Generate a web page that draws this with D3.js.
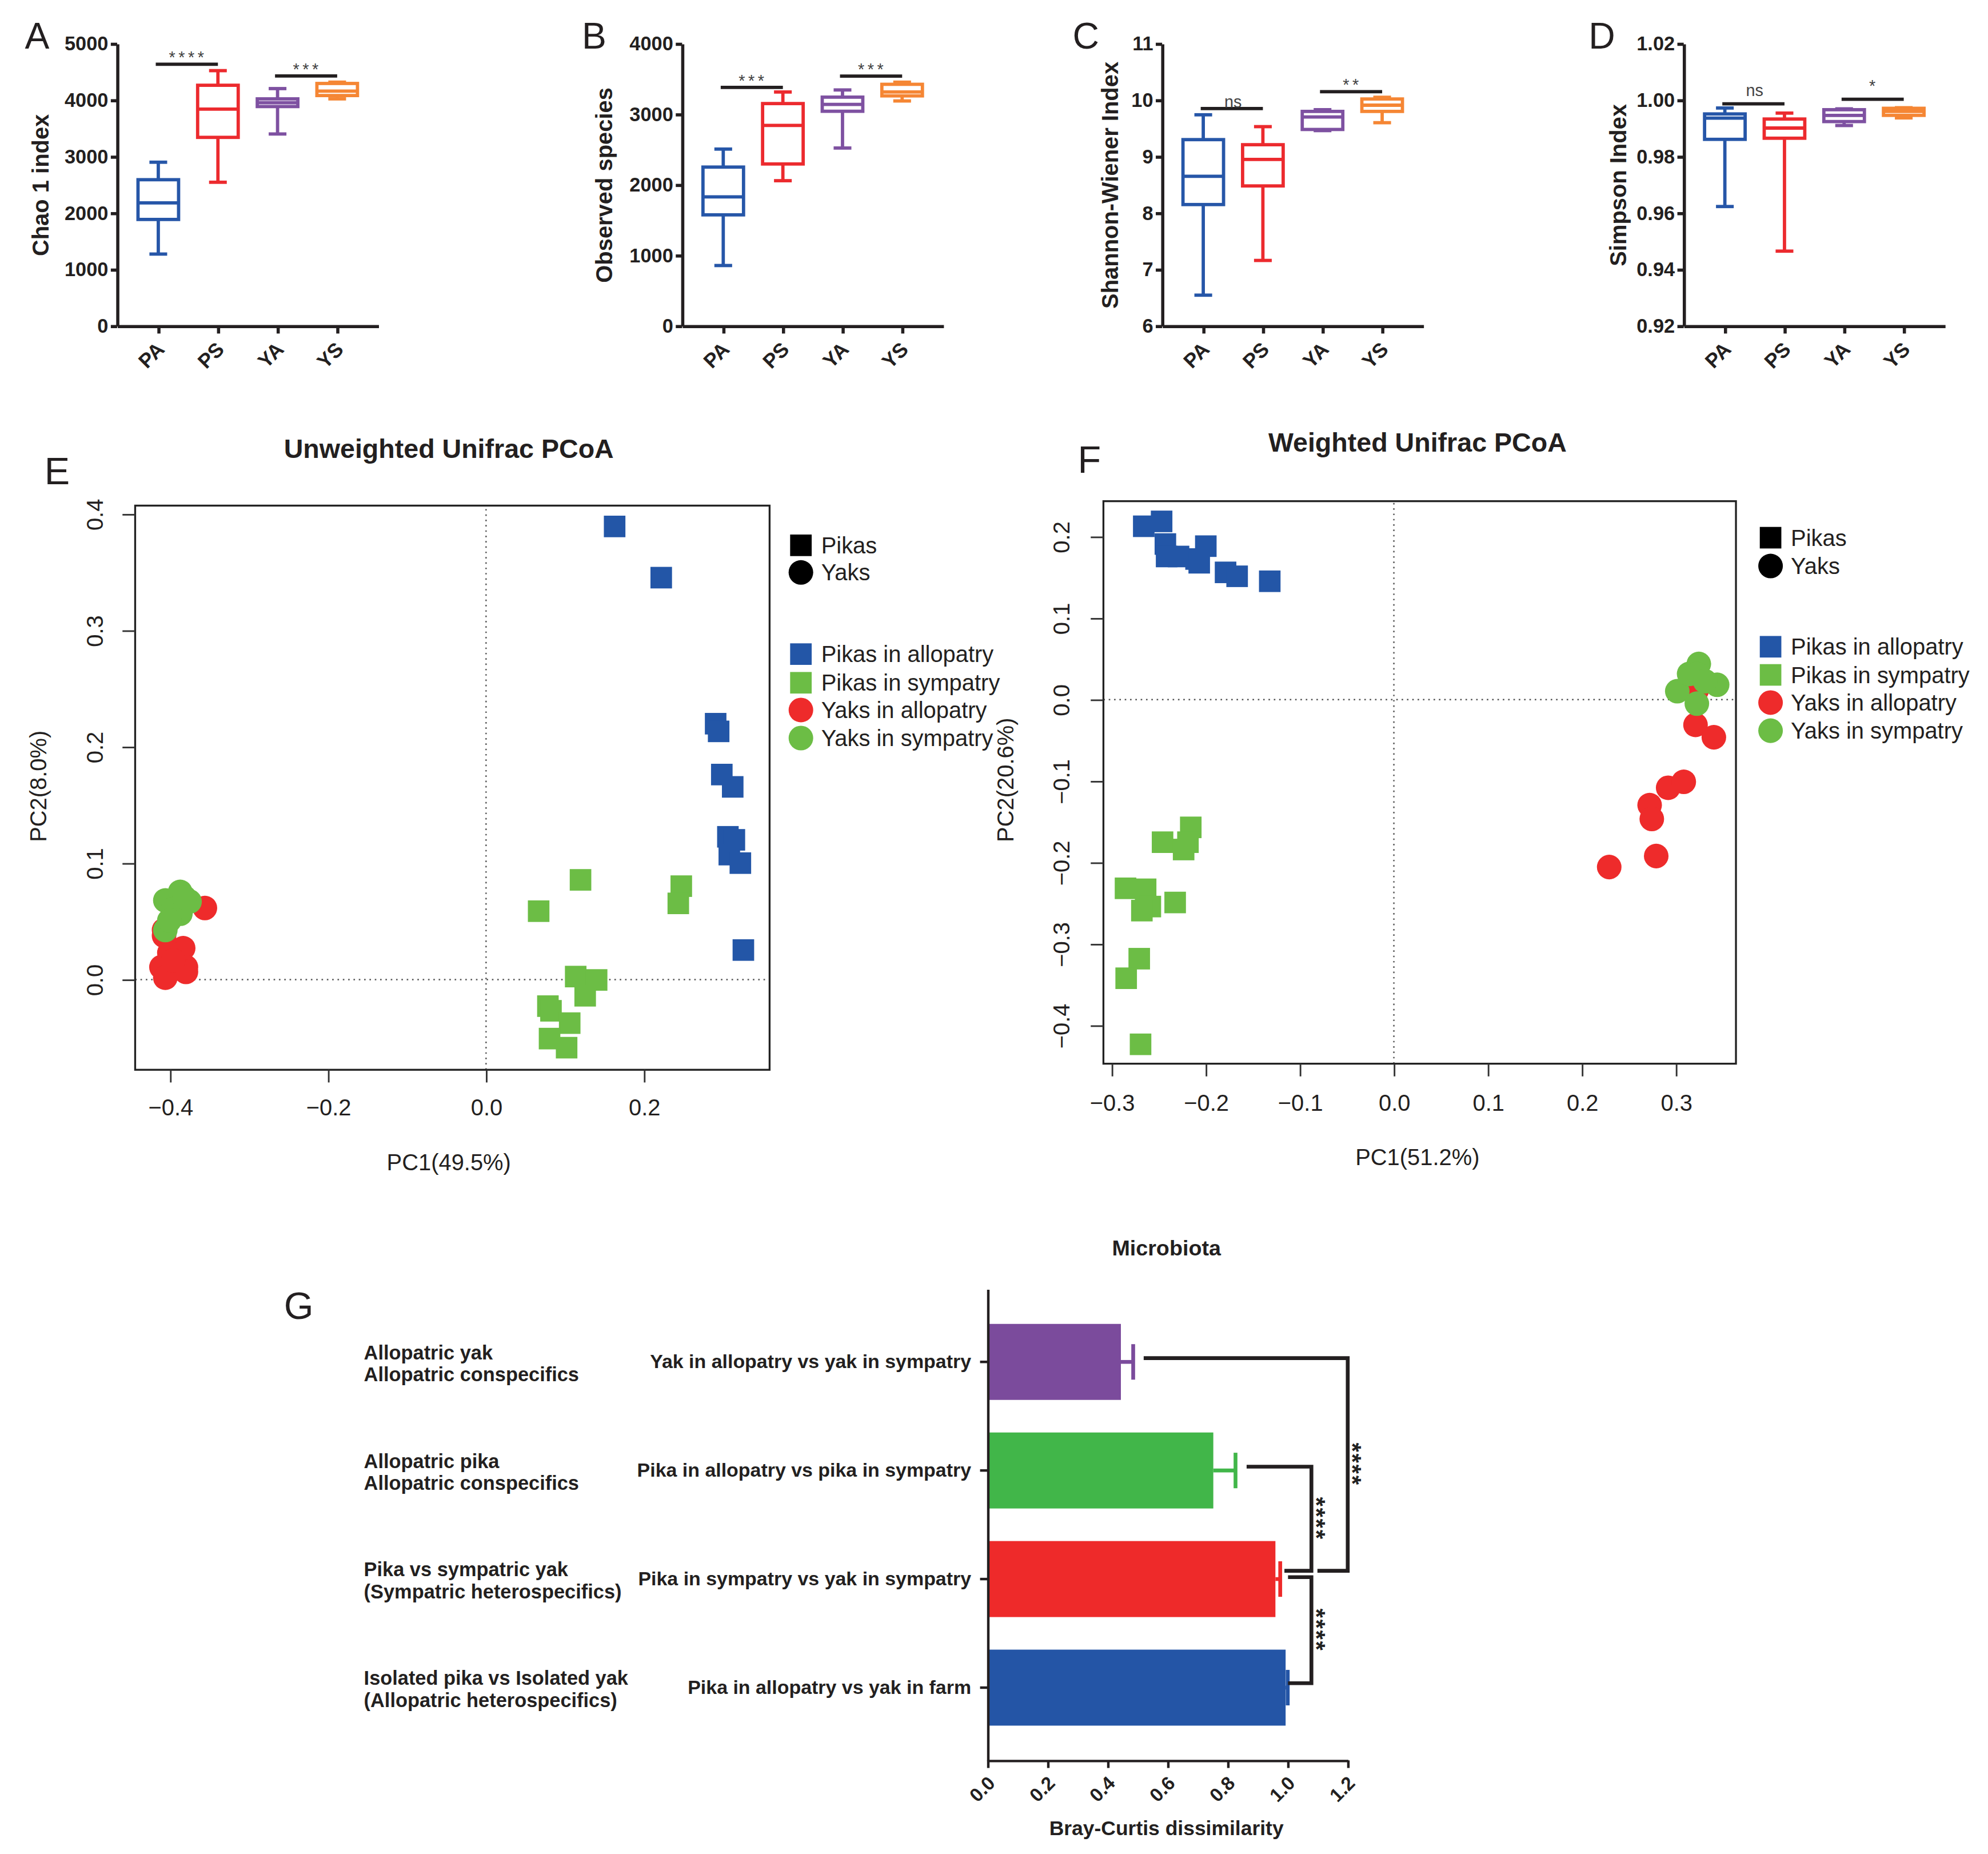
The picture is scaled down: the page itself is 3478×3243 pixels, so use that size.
<!DOCTYPE html>
<html>
<head>
<meta charset="utf-8">
<script src="https://cdn.jsdelivr.net/npm/d3@7"></script>
<style>
  body { margin: 0; background: #fff; }
  text { font-family: "Liberation Sans", Arial, sans-serif; fill: #231f20; }
</style>
</head>
<body>
<div class="chart-holder"></div>
<script>
// ---- data: alpha diversity boxes, [min, q1, median, q3, max] per group
const groups = ["PA", "PS", "YA", "YS"];
const chao1Box = [[1273, 1886, 2180, 2590, 2900], [2545, 3340, 3840, 4263, 4522], [3400, 3886, 3954, 4022, 4204], [4022, 4081, 4160, 4295, 4318]];
const observedBox = [[856, 1574, 1829, 2251, 2506], [2058, 2295, 2842, 3151, 3315], [2521, 3042, 3140, 3242, 3344], [3188, 3260, 3315, 3424, 3454]];
const shannonBox = [[6.545, 8.15, 8.65, 9.30, 9.74], [7.16, 8.48, 8.95, 9.21, 9.53], [9.46, 9.48, 9.70, 9.80, 9.83], [9.60, 9.80, 9.91, 10.02, 10.05]];
const simpsonBox = [[0.9623, 0.9861, 0.9936, 0.9951, 0.9972], [0.9465, 0.9865, 0.9901, 0.9933, 0.9954], [0.9910, 0.9924, 0.9946, 0.9966, 0.9969], [0.9937, 0.9946, 0.9960, 0.9971, 0.9973]];
const chao1Ticks = [0, 1000, 2000, 3000, 4000, 5000];
const observedTicks = [0, 1000, 2000, 3000, 4000];
const shannonTicks = [6, 7, 8, 9, 10, 11];
const simpsonTicks = [0.92, 0.94, 0.96, 0.98, 1.00, 1.02];
// [from group, to group, value of bar, label]
const chao1Sig = [[0, 1, 4636, "****"], [2, 3, 4427, "***"]];
const observedSig = [[0, 1, 3381, "***"], [2, 3, 3541, "***"]];
const shannonSig = [[0, 1, 9.85, "ns"], [2, 3, 10.15, "**"]];
const simpsonSig = [[0, 1, 0.9987, "ns"], [2, 3, 1.0003, "*"]];

// ---- data: PCoA coordinates [PC1, PC2]
const unwPikaAllo = [[0.1628, 0.3894], [0.2218, 0.3454], [0.2907, 0.2199], [0.2945, 0.2133], [0.2985, 0.1762], [0.3123, 0.1656], [0.3062, 0.1227], [0.3144, 0.1201], [0.3080, 0.1074], [0.3220, 0.1001], [0.3258, 0.0254]];
const unwPikaSym = [[0.1135, 0.0026], [0.1400, -0.0003], [0.1255, -0.0139], [0.0783, -0.0228], [0.0822, -0.0268], [0.1059, -0.0374], [0.0804, -0.0507], [0.1020, -0.0585], [0.1196, 0.0857], [0.0666, 0.0588], [0.2472, 0.0803], [0.2434, 0.0655]];
const unwYakAllo = [[-0.356, 0.0615], [-0.4077, 0.0426], [-0.4077, 0.0377], [-0.3835, 0.027], [-0.401, 0.023], [-0.411, 0.0107], [-0.380, 0.0107], [-0.4061, 0.0016], [-0.380, 0.0066], [-0.3963, 0.0164]];
const unwYakSym = [[-0.4061, 0.068], [-0.3873, 0.0754], [-0.3754, 0.0671], [-0.3963, 0.0606], [-0.387, 0.0566], [-0.4061, 0.0426], [-0.401, 0.0508], [-0.3818, 0.0705]];
const wPikaAllo = [[-0.266, 0.2128], [-0.247, 0.2188], [-0.243, 0.191], [-0.2417, 0.1757], [-0.229, 0.1757], [-0.2104, 0.1726], [-0.200, 0.1884], [-0.207, 0.168], [-0.179, 0.1562], [-0.1667, 0.1514], [-0.132, 0.1453]];
const wPikaSym = [[-0.216, -0.1568], [-0.219, -0.175], [-0.246, -0.175], [-0.2236, -0.184], [-0.2854, -0.2316], [-0.264, -0.2328], [-0.259, -0.254], [-0.268, -0.259], [-0.2326, -0.249], [-0.2708, -0.318], [-0.2847, -0.342], [-0.2694, -0.4231]];
const wYakAllo = [[0.229, -0.2055], [0.279, -0.192], [0.272, -0.1295], [0.2743, -0.1465], [0.2917, -0.1082], [0.3083, -0.1009], [0.3208, -0.031], [0.3403, -0.0462], [0.3222, 0.012]];
const wYakSym = [[0.3014, 0.0103], [0.314, 0.0316], [0.3243, 0.0438], [0.3222, 0.0316], [0.3438, 0.0182], [0.3222, -0.0049], [0.331, 0.0225]];
const unwXTicks = [-0.4, -0.2, 0.0, 0.2];
const unwYTicks = [0.0, 0.1, 0.2, 0.3, 0.4];
const wXTicks = [-0.3, -0.2, -0.1, 0.0, 0.1, 0.2, 0.3];
const wYTicks = [-0.4, -0.3, -0.2, -0.1, 0.0, 0.1, 0.2];
const shapeLegend = ["Pikas", "Yaks"];
const groupLegend = ["Pikas in allopatry", "Pikas in sympatry", "Yaks in allopatry", "Yaks in sympatry"];

// ---- data: Bray-Curtis bars
const bcLabels = ["Yak in allopatry vs yak in sympatry", "Pika in allopatry vs pika in sympatry", "Pika in sympatry vs yak in sympatry", "Pika in allopatry vs yak in farm"];
const bcGroups = [["Allopatric yak", "Allopatric conspecifics"], ["Allopatric pika", "Allopatric conspecifics"], ["Pika vs sympatric yak", "(Sympatric heterospecifics)"], ["Isolated pika vs Isolated yak", "(Allopatric heterospecifics)"]];
const bcMeans = [0.444, 0.752, 0.959, 0.993];
const bcErr = [0.485, 0.826, 0.975, 1.0];
const bcTicks = [0, 0.2, 0.4, 0.6, 0.8, 1.0, 1.2];
// [from bar, to bar, x of bracket, x where it leaves, x where it ends]
const bcBrackets = [[0, 2, 1.2, 0.52, 1.099], [1, 2, 1.079, 0.863, 0.989], [2, 3, 1.079, 1.001, 1.001]];

const ink = "#231f20";
const boxColors = ["#2656a8", "#ec2a2e", "#7e51a1", "#f58634"];
const pcoaColors = ["#2356a7", "#6cbd45", "#ee2b2b", "#6cbd45"];
const barColors = ["#7b4b9c", "#41b649", "#ee2a2a", "#2455a6"];

const svg = d3.select(".chart-holder").append("svg")
  .attr("width", 3478).attr("height", 3243)
  .attr("viewBox", "0 0 1568 1462");

// ---------------- A-D box plots
function boxPanel(p) {
  const y = d3.scaleLinear().domain(p.domain).range([257, 34.4]);
  const x = d3.scalePoint().domain(groups).range([p.left, p.left + 206]).padding(0.69);
  const g = svg.append("g");

  g.append("text").attr("x", p.letterX).attr("y", 38.5).attr("font-size", 29).text(p.letter);
  g.append("text")
    .attr("transform", `translate(${p.titleX},146) rotate(-90)`)
    .attr("text-anchor", "middle").attr("dy", "0.35em")
    .attr("font-size", 18).attr("font-weight", "bold").text(p.title);

  const ya = g.append("g").attr("transform", `translate(${p.left},0)`)
    .call(d3.axisLeft(y).tickValues(p.ticks).tickFormat(p.fmt).tickSize(5).tickSizeOuter(0).tickPadding(2));
  const xa = g.append("g").attr("transform", "translate(0,257)")
    .call(d3.axisBottom(x).tickSize(6).tickSizeOuter(0));
  xa.selectAll("text").attr("x", -10).attr("y", 12).attr("dy", "0.35em")
    .attr("transform", "rotate(-45)").attr("text-anchor", "end").attr("font-size", 16);
  ya.selectAll("text").attr("font-size", 15.5);
  g.selectAll(".domain, .tick line").attr("stroke", ink).attr("stroke-width", 2.5);
  g.selectAll(".tick text").attr("font-weight", "bold").attr("fill", ink).attr("font-family", null);

  const rows = p.data.map((d, i) => ({ g: groups[i], v: d, c: boxColors[i] }));
  const bx = g.selectAll(".bx").data(rows).join("g")
    .attr("stroke", d => d.c).attr("stroke-width", 2.6).attr("fill", "none");
  bx.append("line").attr("x1", d => x(d.g)).attr("x2", d => x(d.g)).attr("y1", d => y(d.v[0])).attr("y2", d => y(d.v[1]));
  bx.append("line").attr("x1", d => x(d.g)).attr("x2", d => x(d.g)).attr("y1", d => y(d.v[3])).attr("y2", d => y(d.v[4]));
  bx.append("line").attr("x1", d => x(d.g) - 7).attr("x2", d => x(d.g) + 7).attr("y1", d => y(d.v[0])).attr("y2", d => y(d.v[0]));
  bx.append("line").attr("x1", d => x(d.g) - 7).attr("x2", d => x(d.g) + 7).attr("y1", d => y(d.v[4])).attr("y2", d => y(d.v[4]));
  bx.append("rect").attr("x", d => x(d.g) - 16).attr("width", 32)
    .attr("y", d => y(d.v[3])).attr("height", d => y(d.v[1]) - y(d.v[3])).attr("fill", "#fff");
  bx.append("line").attr("x1", d => x(d.g) - 16).attr("x2", d => x(d.g) + 16).attr("y1", d => y(d.v[2])).attr("y2", d => y(d.v[2]));

  p.sig.forEach(([a, b, v, label]) => {
    g.append("line").attr("x1", x(groups[a]) - 2).attr("x2", x(groups[b]))
      .attr("y1", y(v)).attr("y2", y(v)).attr("stroke", ink).attr("stroke-width", 2.6);
    g.append("text").attr("x", (x(groups[a]) + x(groups[b])) / 2).attr("y", y(v) - p.labelGap)
      .attr("text-anchor", "middle").attr("font-size", 13).style("fill", "#444")
      .attr("letter-spacing", label.startsWith("*") ? 2.5 : 0).text(label);
  });
}

boxPanel({ letter: "A", letterX: 19.6, left: 92.4, title: "Chao 1 index", titleX: 31.9, data: chao1Box, ticks: chao1Ticks, domain: [0, 5000], fmt: d3.format("d"), sig: chao1Sig, labelGap: 1 });
boxPanel({ letter: "B", letterX: 459, left: 538, title: "Observed species", titleX: 476.4, data: observedBox, ticks: observedTicks, domain: [0, 4000], fmt: d3.format("d"), sig: observedSig, labelGap: 1 });
boxPanel({ letter: "C", letterX: 846, left: 916.6, title: "Shannon-Wiener Index", titleX: 875.5, data: shannonBox, ticks: shannonTicks, domain: [6, 11], fmt: d3.format("d"), sig: shannonSig, labelGap: 1 });
boxPanel({ letter: "D", letterX: 1253, left: 1328, title: "Simpson Index", titleX: 1276.4, data: simpsonBox, ticks: simpsonTicks, domain: [0.92, 1.02], fmt: d3.format(".2f"), sig: simpsonSig, labelGap: 6 });

// ---------------- E-F PCoA
function pcoaPanel(p) {
  const x = d3.scaleLinear().domain(p.xDomain).range(p.xRange);
  const y = d3.scaleLinear().domain(p.yDomain).range(p.yRange);
  const g = svg.append("g");
  const fmt = d3.format(".1f");

  g.append("text").attr("x", p.letterX).attr("y", p.letterY).attr("font-size", 30).text(p.letter);
  g.append("text").attr("x", p.titleX).attr("y", p.titleY).attr("text-anchor", "middle")
    .attr("font-size", 21).attr("font-weight", "bold").text(p.title);

  const dotted = g.append("g").attr("stroke", "#555").attr("stroke-width", 1.1).attr("stroke-dasharray", "1.2,3");
  dotted.append("line").attr("x1", x(0)).attr("x2", x(0)).attr("y1", p.yRange[0]).attr("y2", p.yRange[1]);
  dotted.append("line").attr("x1", p.xRange[0]).attr("x2", p.xRange[1]).attr("y1", y(0)).attr("y2", y(0));

  p.series.forEach((pts, i) => {
    const col = pcoaColors[i];
    if (i < 2) {
      g.append("g").selectAll("rect").data(pts).join("rect")
        .attr("x", d => x(d[0]) - 8.5).attr("y", d => y(d[1]) - 8.5)
        .attr("width", 17).attr("height", 17).attr("fill", col);
    } else {
      g.append("g").selectAll("circle").data(pts).join("circle")
        .attr("cx", d => x(d[0])).attr("cy", d => y(d[1])).attr("r", 9.7).attr("fill", col);
    }
  });

  g.append("rect").attr("x", p.xRange[0]).attr("y", p.yRange[1])
    .attr("width", p.xRange[1] - p.xRange[0]).attr("height", p.yRange[0] - p.yRange[1])
    .attr("fill", "none").attr("stroke", "#222").attr("stroke-width", 1.5);

  const xa = g.append("g").attr("transform", `translate(0,${p.yRange[0]})`)
    .call(d3.axisBottom(x).tickValues(p.xTicks).tickFormat(fmt).tickSize(10).tickPadding(p.xPad).tickSizeOuter(0));
  const ya = g.append("g").attr("transform", `translate(${p.xRange[0]},0)`)
    .call(d3.axisLeft(y).tickValues(p.yTicks).tickFormat(fmt).tickSize(10).tickSizeOuter(0));
  g.selectAll(".domain").remove();
  g.selectAll(".tick line").attr("stroke", "#333").attr("stroke-width", 1.3);
  g.selectAll(".tick text").attr("font-size", 18).attr("fill", ink).attr("font-family", null);
  ya.selectAll("text").attr("x", null).attr("dy", "0.35em").attr("text-anchor", "middle")
    .attr("transform", `translate(${p.yLabelOff},0) rotate(-90)`);

  g.append("text").attr("x", p.titleX).attr("y", p.xTitleY).attr("text-anchor", "middle")
    .attr("font-size", 18).text(p.xTitle);
  g.append("text").attr("transform", `translate(${p.yTitleX},${p.yTitleY}) rotate(-90)`)
    .attr("text-anchor", "middle").attr("dy", "0.35em").attr("font-size", 18).text(p.yTitle);

  // legend
  const lg = g.append("g");
  shapeLegend.forEach((t, i) => {
    const cy = p.legY[i];
    if (i === 0) lg.append("rect").attr("x", p.legX - 8.5).attr("y", cy - 8.5).attr("width", 17).attr("height", 17).attr("fill", "#000");
    else lg.append("circle").attr("cx", p.legX).attr("cy", cy).attr("r", 9.7).attr("fill", "#000");
    lg.append("text").attr("x", p.legX + 16).attr("y", cy).attr("dy", "0.35em").attr("font-size", 18).text(t);
  });
  groupLegend.forEach((t, i) => {
    const cy = p.legY[i + 2];
    if (i < 2) lg.append("rect").attr("x", p.legX - 8.5).attr("y", cy - 8.5).attr("width", 17).attr("height", 17).attr("fill", pcoaColors[i]);
    else lg.append("circle").attr("cx", p.legX).attr("cy", cy).attr("r", 9.7).attr("fill", pcoaColors[i]);
    lg.append("text").attr("x", p.legX + 16).attr("y", cy).attr("dy", "0.35em").attr("font-size", 18).text(t);
  });
}

pcoaPanel({
  letter: "E", letterX: 35, letterY: 382, title: "Unweighted Unifrac PCoA", titleX: 354, titleY: 361,
  xDomain: [-0.4443, 0.359], xRange: [106.6, 607], yDomain: [-0.0775, 0.4073], yRange: [843.6, 398.7],
  xTicks: unwXTicks, yTicks: unwYTicks, xPad: 13, yLabelOff: -31.6,
  series: [unwPikaAllo, unwPikaSym, unwYakAllo, unwYakSym],
  xTitle: "PC1(49.5%)", xTitleY: 923, yTitle: "PC2(8.0%)", yTitleX: 30, yTitleY: 620,
  legX: 631.7, legY: [430, 451.4, 515.8, 538.4, 559.9, 582]
});
pcoaPanel({
  letter: "F", letterX: 850, letterY: 373, title: "Weighted Unifrac PCoA", titleX: 1118, titleY: 356,
  xDomain: [-0.3089, 0.3638], xRange: [870.3, 1369.2], yDomain: [-0.4469, 0.2436], yRange: [838.8, 395.2],
  xTicks: wXTicks, yTicks: wYTicks, xPad: 14.5, yLabelOff: -33.3,
  series: [wPikaAllo, wPikaSym, wYakAllo, wYakSym],
  xTitle: "PC1(51.2%)", xTitleY: 919, yTitle: "PC2(20.6%)", yTitleX: 793, yTitleY: 615,
  legX: 1396.5, legY: [424, 446.3, 510, 532.2, 554, 576.2]
});

// ---------------- G Bray-Curtis
(function () {
  const x = d3.scaleLinear().domain([0, 1.2]).range([779, 1063]);
  const y = d3.scaleBand().domain(bcLabels).range([1016.6, 1388.2]).paddingInner(0.3).paddingOuter(0.32);
  const g = svg.append("g");
  const cy = i => y(bcLabels[i]) + y.bandwidth() / 2;

  g.append("text").attr("x", 224).attr("y", 1040).attr("font-size", 30).text("G");
  g.append("text").attr("x", 920).attr("y", 990).attr("text-anchor", "middle")
    .attr("font-size", 17).attr("font-weight", "bold").text("Microbiota");
  g.append("text").attr("x", 920).attr("y", 1447).attr("text-anchor", "middle")
    .attr("font-size", 16).attr("font-weight", "bold").text("Bray-Curtis dissimilarity");

  g.selectAll(".bar").data(bcLabels).join("rect")
    .attr("x", x(0)).attr("y", d => y(d)).attr("height", y.bandwidth())
    .attr("width", (d, i) => x(bcMeans[i]) - x(0)).attr("fill", (d, i) => barColors[i]);

  bcLabels.forEach((d, i) => {
    const c = cy(i);
    g.append("line").attr("x1", x(bcMeans[i])).attr("x2", x(bcErr[i])).attr("y1", c).attr("y2", c)
      .attr("stroke", barColors[i]).attr("stroke-width", 3);
    g.append("line").attr("x1", x(bcErr[i])).attr("x2", x(bcErr[i])).attr("y1", c - 14).attr("y2", c + 14)
      .attr("stroke", barColors[i]).attr("stroke-width", 3);
    bcGroups[i].forEach((t, j) => {
      g.append("text").attr("x", 287).attr("y", c + (j === 0 ? -7.5 : 10)).attr("dy", "0.35em")
        .attr("font-size", 15.5).attr("font-weight", "bold").text(t);
    });
  });

  bcBrackets.forEach(([a, b, vx, sx, ex]) => {
    const y1 = cy(a) + (a === 2 ? -1.5 : -3);
    const y2 = cy(b) + (b === 2 ? -6.5 : -3.5);
    g.append("path")
      .attr("d", `M${x(sx)},${y1}H${x(vx)}V${y2}H${x(ex)}`)
      .attr("fill", "none").attr("stroke", ink).attr("stroke-width", 3);
    g.append("text").attr("transform", `translate(${x(vx) - 2.5},${(y1 + y2) / 2}) rotate(90)`)
      .attr("text-anchor", "middle").attr("font-size", 19).attr("font-weight", "bold")
      .attr("letter-spacing", 1.2).style("fill", "#222").text("****");
  });

  const ya = g.append("g").attr("transform", `translate(${x(0)},0)`)
    .call(d3.axisLeft(y).tickSize(6).tickSizeOuter(0).tickPadding(7));
  const xa = g.append("g").attr("transform", `translate(0,${1388.2})`)
    .call(d3.axisBottom(x).tickValues(bcTicks).tickFormat(d3.format(".1f")).tickSize(6).tickSizeOuter(0));
  xa.selectAll("text").attr("x", -9).attr("y", 12.5).attr("dy", "0.35em")
    .attr("transform", "rotate(-45)").attr("text-anchor", "end");
  g.selectAll(".domain, .tick line").attr("stroke", ink).attr("stroke-width", 2);
  g.selectAll(".tick text").attr("font-weight", "bold").attr("fill", ink).attr("font-family", null);
  ya.selectAll("text").attr("font-size", 15.3);
  xa.selectAll("text").attr("font-size", 15);
})();
</script>
</body>
</html>
